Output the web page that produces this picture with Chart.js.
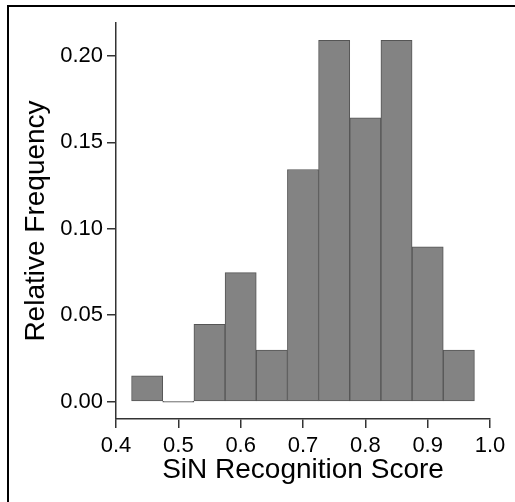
<!DOCTYPE html>
<html>
<head>
<meta charset="utf-8">
<script src="https://cdn.jsdelivr.net/npm/chart.js@4/dist/chart.umd.min.js"></script>
<style>
  html, body { margin: 0; padding: 0; background: #fff; }
  #frame {
    position: absolute; left: 7px; top: 5px; right: -4px; bottom: -4px;
    border-top: 2px solid #000; border-left: 2px solid #000;
  }
  #wrap { position: absolute; left: 0; top: 0; width: 515px; height: 502px; }
</style>
</head>
<body>
<div id="frame"></div>
<div id="wrap"><canvas id="histChart" width="515" height="502"></canvas></div>
<script>
// bin centres (width 0.05) and relative frequency per bin
const binCenters = [0.45, 0.50, 0.55, 0.60, 0.65, 0.70, 0.75, 0.80, 0.85, 0.90, 0.95];
const relFreq    = [0.0149, 0, 0.0448, 0.0746, 0.0299, 0.1343, 0.2090, 0.1642, 0.2090, 0.0896, 0.0299];
const xTicks = [0.4, 0.5, 0.6, 0.7, 0.8, 0.9, 1.0];
const yTicks = [0.00, 0.05, 0.10, 0.15, 0.20];

const fontFamily = '"Liberation Sans", Arial, Helvetica, sans-serif';
const axisColor = '#333';

const points = binCenters.map((c, i) => ({ x: c, y: relFreq[i] }));

new Chart(document.getElementById('histChart'), {
    type: 'bar',
    data: {
        datasets: [{
            data: points,
            backgroundColor: '#838383',
            borderColor: '#555',
            borderWidth: 1,
            borderSkipped: false,
            minBarLength: 1,
            barPercentage: 1,
            categoryPercentage: 1
        }]
    },
    options: {
        responsive: false,
        animation: false,
        layout: { padding: { left: 0, right: 25, top: 23, bottom: 0 } },
        plugins: { legend: { display: false }, tooltip: { enabled: false } },
        scales: {
            x: {
                type: 'linear',
                min: 0.4,
                max: 1.0,
                offset: false,
                afterBuildTicks: s => { s.ticks = xTicks.map(v => ({ value: v })); },
                afterFit: s => { s.height = 83; },
                grid: { offset: false, drawOnChartArea: false, drawTicks: true, tickLength: 9, color: axisColor, lineWidth: 1.5 },
                border: { display: true, color: axisColor, width: 1.5 },
                ticks: {
                    color: '#000',
                    padding: 5,
                    maxRotation: 0,
                    font: { family: fontFamily, size: 22 },
                    callback: v => v.toFixed(1)
                },
                title: {
                    display: true,
                    text: 'SiN Recognition Score',
                    color: '#000',
                    font: { family: fontFamily, size: 28 },
                    padding: { top: 0, bottom: 15 }
                }
            },
            y: {
                min: -0.01,
                max: 0.219,
                afterBuildTicks: s => { s.ticks = yTicks.map(v => ({ value: v })); },
                afterFit: s => { s.width = 116; },
                grid: { drawOnChartArea: false, drawTicks: true, tickLength: 9, color: axisColor, lineWidth: 1.5 },
                border: { display: true, color: axisColor, width: 1.5 },
                ticks: {
                    color: '#000',
                    padding: 4,
                    font: { family: fontFamily, size: 22 },
                    callback: v => v.toFixed(2)
                },
                title: {
                    display: true,
                    text: 'Relative Frequency',
                    color: '#000',
                    font: { family: fontFamily, size: 28 },
                    padding: { top: 19, bottom: 0 }
                }
            }
        }
    }
});
</script>
</body>
</html>
